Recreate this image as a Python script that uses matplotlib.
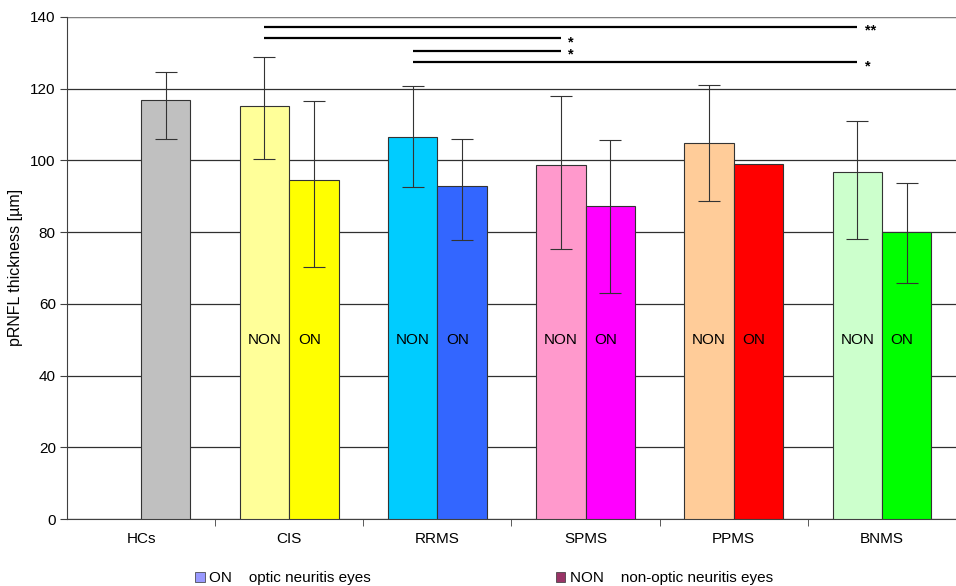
import numpy as np
import matplotlib
matplotlib.use("Agg")
import matplotlib.pyplot as plt
from matplotlib.patches import Patch

plt.rcParams['font.family'] = ['Liberation Sans', 'DejaVu Sans']

# ---- data ----
groups = ['HCs', 'CIS', 'RRMS', 'SPMS', 'PPMS', 'BNMS']
non_mean = [np.nan, 115.1, 106.6, 98.6, 104.8, 96.7]
non_err_low = [np.nan, 14.7, 14.0, 23.3, 16.2, 18.7]
non_err_high = [np.nan, 13.6, 14.1, 19.4, 16.1, 14.2]
on_mean = [116.7, 94.5, 92.7, 87.2, 99.1, 80.0]
on_err_low = [10.8, 24.3, 15.0, 24.2, np.nan, 14.1]
on_err_high = [7.8, 22.1, 13.1, 18.4, np.nan, 13.7]
non_colors = ['#C0C0C0', '#FFFF99', '#00CCFF', '#FF99CC', '#FFCC99', '#CCFFCC']
on_colors = ['#C0C0C0', '#FFFF00', '#3366FF', '#FF00FF', '#FF0000', '#00FF00']
# significance: (from group, to group, level, label)
sig_from = [1, 1, 2, 2]
sig_to = [5, 3, 3, 5]
sig_level = [137.3, 134.1, 130.6, 127.3]
sig_label = ['**', '*', '*', '*']
yticks = [0, 20, 40, 60, 80, 100, 120, 140]

fig = plt.figure(figsize=(9.56, 5.86), dpi=100)
ax = fig.add_axes([0.070, 0.1143, 0.930, 0.857])

x = np.arange(len(groups))
w = 1 / 3
edge = '#333333'
ax.bar(x - w / 2, non_mean, width=w, color=non_colors, edgecolor=edge, linewidth=0.8, zorder=3)
ax.bar(x + w / 2, on_mean, width=w, color=on_colors, edgecolor=edge, linewidth=0.8, zorder=3)
ax.errorbar(x - w / 2, non_mean, yerr=[non_err_low, non_err_high], fmt='none',
            ecolor='#333333', elinewidth=0.8, capsize=8, capthick=0.8, zorder=4)
ax.errorbar(x + w / 2, on_mean, yerr=[on_err_low, on_err_high], fmt='none',
            ecolor='#333333', elinewidth=0.8, capsize=8, capthick=0.8, zorder=4)

for i in range(1, len(groups)):
    ax.text(x[i] - w / 2, 50, 'NON', ha='center', va='center', fontsize=11, zorder=5)
    ax.text(x[i] + w / 2 - 0.03, 50, 'ON', ha='center', va='center', fontsize=11, zorder=5)

for a, b, lev, lab in zip(sig_from, sig_to, sig_level, sig_label):
    x0 = a - w / 2
    x1 = b - w / 2
    ax.plot([x0, x1], [lev, lev], color='black', lw=1.6, zorder=5, solid_capstyle='butt')
    ax.text(x1 + 0.05, lev - 2.3, lab, ha='left', va='baseline', fontsize=10.5,
            fontweight='bold', zorder=5)

ax.set_xlim(-0.5, len(groups) - 0.5)
ax.set_ylim(0, 140)
ax.set_yticks(yticks)
ax.set_yticklabels([str(t) for t in yticks], fontsize=11)
ax.set_xticks(x)
ax.set_xticklabels(groups, fontsize=11)
ax.tick_params(axis='x', which='major', length=0, pad=9)
ax.set_xticks(np.arange(-0.5, len(groups) - 0.5, 1.0)[1:], minor=True)
ax.tick_params(axis='x', which='minor', length=5, color='#404040', direction='out')
ax.tick_params(axis='y', length=5, color='#404040', direction='out', pad=3)
ax.set_ylabel('pRNFL thickness [µm]', fontsize=11.5, labelpad=5)

ax.yaxis.grid(True, color='#303030', linewidth=0.9, zorder=0)
ax.set_axisbelow(True)
for s in ['top', 'right']:
    ax.spines[s].set_visible(False)
ax.spines['left'].set_color('#404040')
ax.spines['bottom'].set_color('#404040')
ax.axhline(140, color='#808080', lw=1.5, zorder=1)

handles = [Patch(facecolor='#9999FF', edgecolor='#333333', linewidth=0.5),
           Patch(facecolor='#993366', edgecolor='#333333', linewidth=0.5)]
labels = ['ON    optic neuritis eyes', 'NON    non-optic neuritis eyes']
fig.legend(handles, labels, loc='lower left', bbox_to_anchor=(0.190, -0.022), ncol=2,
           frameon=False, fontsize=11, handlelength=0.6, handleheight=0.6,
           handletextpad=0.3, columnspacing=12.1)

fig.savefig('out.png', dpi=100)
